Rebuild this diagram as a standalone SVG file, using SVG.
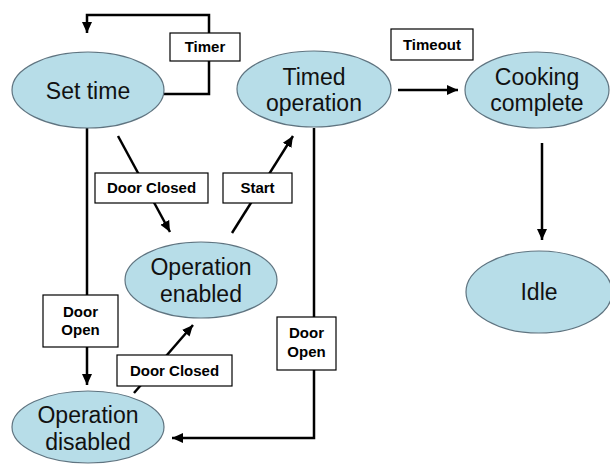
<svg xmlns="http://www.w3.org/2000/svg" width="610" height="464" viewBox="0 0 610 464">
<style>
.node ellipse{fill:#b7dde8;stroke:#5f7480;stroke-width:1.2}
.node text{font-family:"Liberation Sans",Arial,sans-serif;font-size:23px;fill:#111;text-anchor:middle}
.lbl rect{fill:#fff;stroke:#000;stroke-width:1.2}
.lbl text{font-family:"Liberation Sans",Arial,sans-serif;font-size:15px;font-weight:bold;fill:#000;text-anchor:middle}
.edge{fill:none;stroke:#000;stroke-width:2.5}
</style>
<defs>
<marker id="ah" markerUnits="userSpaceOnUse" markerWidth="12" markerHeight="12" viewBox="0 0 12 12" refX="11" refY="6" orient="auto">
<path d="M0,1 L11,6 L0,11 Z" fill="#000"/>
</marker>
</defs>
<rect width="610" height="464" fill="#fff"/>
<g id="connectors">
<path class="edge" d="M163,94 H209 V15 H87 V33" marker-end="url(#ah)"/>
<path class="edge" d="M398,90 H458" marker-end="url(#ah)"/>
<path class="edge" d="M118,136 L170,232" marker-end="url(#ah)"/>
<path class="edge" d="M232,233 L293,136" marker-end="url(#ah)"/>
<path class="edge" d="M87,128 V385" marker-end="url(#ah)"/>
<path class="edge" d="M134,393 L193,325" marker-end="url(#ah)"/>
<path class="edge" d="M314,128 V438 H172" marker-end="url(#ah)"/>
<path class="edge" d="M542,143 V240" marker-end="url(#ah)"/>
</g>
<g id="lbl-timer" class="lbl"><rect x="170" y="33" width="70" height="28"/><text x="205" y="52">Timer</text></g>
<g id="lbl-timeout" class="lbl"><rect x="391" y="29" width="82" height="31"/><text x="432" y="50">Timeout</text></g>
<g id="lbl-doorclosed1" class="lbl"><rect x="95" y="173" width="113" height="30"/><text x="151.5" y="193">Door Closed</text></g>
<g id="lbl-start" class="lbl"><rect x="223" y="173" width="69" height="30"/><text x="257.5" y="193">Start</text></g>
<g id="lbl-dooropen1" class="lbl"><rect x="43" y="295" width="75" height="52"/><text x="80.5" y="317">Door</text><text x="80.5" y="335">Open</text></g>
<g id="lbl-doorclosed2" class="lbl"><rect x="117" y="355" width="115" height="31"/><text x="174.5" y="376">Door Closed</text></g>
<g id="lbl-dooropen2" class="lbl"><rect x="277" y="317" width="59" height="53"/><text x="306.5" y="338">Door</text><text x="306.5" y="357">Open</text></g>
<g id="set-time" class="node"><ellipse cx="88" cy="90" rx="76" ry="38"/><text x="88" y="99">Set time</text></g>
<g id="timed-operation" class="node"><ellipse cx="314" cy="89" rx="77" ry="38"/><text x="314" y="85">Timed</text><text x="314" y="111">operation</text></g>
<g id="cooking-complete" class="node"><ellipse cx="537" cy="90" rx="72" ry="38"/><text x="537" y="85">Cooking</text><text x="537" y="111">complete</text></g>
<g id="operation-enabled" class="node"><ellipse cx="201" cy="280" rx="76" ry="38"/><text x="201" y="275">Operation</text><text x="201" y="302">enabled</text></g>
<g id="operation-disabled" class="node"><ellipse cx="88" cy="427" rx="76" ry="36"/><text x="88" y="423">Operation</text><text x="88" y="450">disabled</text></g>
<g id="idle" class="node"><ellipse cx="539" cy="292" rx="73" ry="41"/><text x="539" y="300">Idle</text></g>
</svg>
